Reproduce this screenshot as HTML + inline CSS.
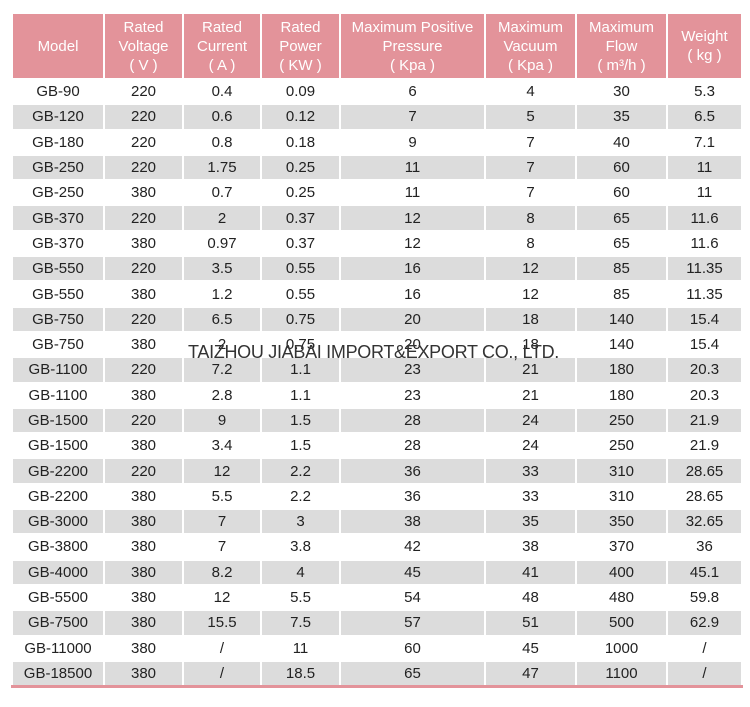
<!DOCTYPE html><html><head><style>
body{margin:0;width:750px;height:707px;background:#fff;position:relative;font-family:"Liberation Sans",Arial,sans-serif;overflow:hidden}
table{position:absolute;left:11px;top:12px;width:730px;border-collapse:collapse;table-layout:fixed}
td,th{text-align:center;color:#222;font-size:15px;border:2px solid #fff;padding:0;height:23.3px;line-height:21px;font-weight:normal}
th{background:#e3939a;color:#fff;height:64px;line-height:19px;font-size:15px}
tbody tr:nth-child(even) td{background:#dcdcdc}
tr.last td{border-bottom:3px solid #e3939a}
.wm{position:absolute;left:188px;top:342px;font-size:18px;color:#333;letter-spacing:-0.3px;white-space:nowrap}
</style></head><body>
<table>
<colgroup><col style="width:92px"><col style="width:79px"><col style="width:78px"><col style="width:79px"><col style="width:145px"><col style="width:91px"><col style="width:91px"><col style="width:75px"></colgroup>
<thead><tr><th>Model</th><th>Rated<br>Voltage<br>( V )</th><th>Rated<br>Current<br>( A )</th><th>Rated<br>Power<br>( KW )</th><th>Maximum Positive<br>Pressure<br>( Kpa )</th><th>Maximum<br>Vacuum<br>( Kpa )</th><th>Maximum<br>Flow<br>( m³/h )</th><th>Weight<br>( kg )</th></tr></thead>
<tbody>
<tr><td>GB-90</td><td>220</td><td>0.4</td><td>0.09</td><td>6</td><td>4</td><td>30</td><td>5.3</td></tr>
<tr><td>GB-120</td><td>220</td><td>0.6</td><td>0.12</td><td>7</td><td>5</td><td>35</td><td>6.5</td></tr>
<tr><td>GB-180</td><td>220</td><td>0.8</td><td>0.18</td><td>9</td><td>7</td><td>40</td><td>7.1</td></tr>
<tr><td>GB-250</td><td>220</td><td>1.75</td><td>0.25</td><td>11</td><td>7</td><td>60</td><td>11</td></tr>
<tr><td>GB-250</td><td>380</td><td>0.7</td><td>0.25</td><td>11</td><td>7</td><td>60</td><td>11</td></tr>
<tr><td>GB-370</td><td>220</td><td>2</td><td>0.37</td><td>12</td><td>8</td><td>65</td><td>11.6</td></tr>
<tr><td>GB-370</td><td>380</td><td>0.97</td><td>0.37</td><td>12</td><td>8</td><td>65</td><td>11.6</td></tr>
<tr><td>GB-550</td><td>220</td><td>3.5</td><td>0.55</td><td>16</td><td>12</td><td>85</td><td>11.35</td></tr>
<tr><td>GB-550</td><td>380</td><td>1.2</td><td>0.55</td><td>16</td><td>12</td><td>85</td><td>11.35</td></tr>
<tr><td>GB-750</td><td>220</td><td>6.5</td><td>0.75</td><td>20</td><td>18</td><td>140</td><td>15.4</td></tr>
<tr><td>GB-750</td><td>380</td><td>2</td><td>0.75</td><td>20</td><td>18</td><td>140</td><td>15.4</td></tr>
<tr><td>GB-1100</td><td>220</td><td>7.2</td><td>1.1</td><td>23</td><td>21</td><td>180</td><td>20.3</td></tr>
<tr><td>GB-1100</td><td>380</td><td>2.8</td><td>1.1</td><td>23</td><td>21</td><td>180</td><td>20.3</td></tr>
<tr><td>GB-1500</td><td>220</td><td>9</td><td>1.5</td><td>28</td><td>24</td><td>250</td><td>21.9</td></tr>
<tr><td>GB-1500</td><td>380</td><td>3.4</td><td>1.5</td><td>28</td><td>24</td><td>250</td><td>21.9</td></tr>
<tr><td>GB-2200</td><td>220</td><td>12</td><td>2.2</td><td>36</td><td>33</td><td>310</td><td>28.65</td></tr>
<tr><td>GB-2200</td><td>380</td><td>5.5</td><td>2.2</td><td>36</td><td>33</td><td>310</td><td>28.65</td></tr>
<tr><td>GB-3000</td><td>380</td><td>7</td><td>3</td><td>38</td><td>35</td><td>350</td><td>32.65</td></tr>
<tr><td>GB-3800</td><td>380</td><td>7</td><td>3.8</td><td>42</td><td>38</td><td>370</td><td>36</td></tr>
<tr><td>GB-4000</td><td>380</td><td>8.2</td><td>4</td><td>45</td><td>41</td><td>400</td><td>45.1</td></tr>
<tr><td>GB-5500</td><td>380</td><td>12</td><td>5.5</td><td>54</td><td>48</td><td>480</td><td>59.8</td></tr>
<tr><td>GB-7500</td><td>380</td><td>15.5</td><td>7.5</td><td>57</td><td>51</td><td>500</td><td>62.9</td></tr>
<tr><td>GB-11000</td><td>380</td><td>/</td><td>11</td><td>60</td><td>45</td><td>1000</td><td>/</td></tr>
<tr class="last"><td>GB-18500</td><td>380</td><td>/</td><td>18.5</td><td>65</td><td>47</td><td>1100</td><td>/</td></tr>
</tbody></table>
<div class="wm">TAIZHOU JIABAI IMPORT&amp;EXPORT CO., LTD.</div>
</body></html>
